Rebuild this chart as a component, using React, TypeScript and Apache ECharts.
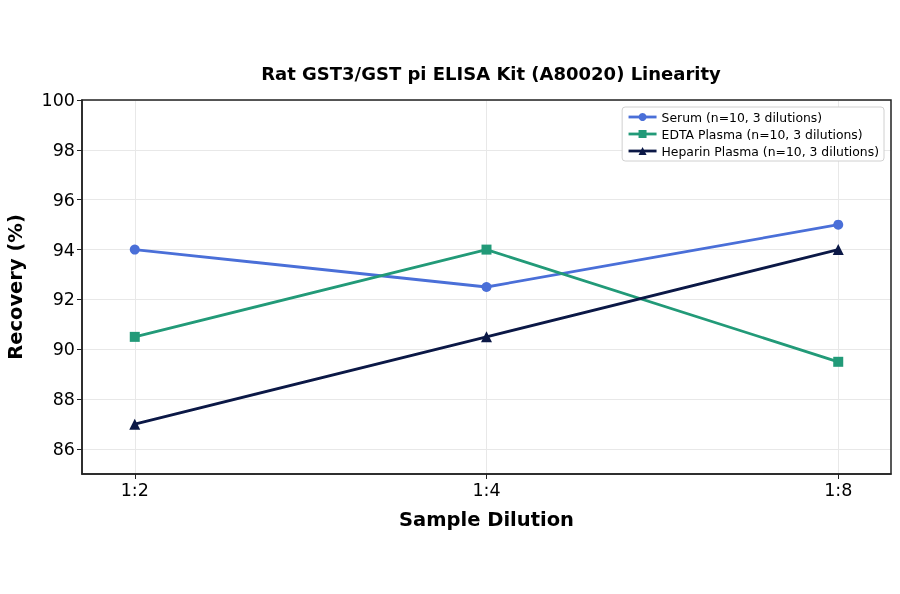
import React, { useEffect, useRef } from "react";
import * as echarts from "echarts";

const dilutions = ["1:2", "1:4", "1:8"];
const serum = [94, 92.5, 95];
const edtaPlasma = [90.5, 94, 89.5];
const heparinPlasma = [87, 90.5, 94];
const yTicks = [86, 88, 90, 92, 94, 96, 98, 100];
const xTicks = [0, 1, 2];

const FONT = "DejaVu Sans";

function pairs(values: number[]) {
  return values.map((v, i) => [i, v]);
}

function App() {
  const chartRef = useRef<HTMLDivElement>(null);

  useEffect(() => {
    if (!chartRef.current) return;
    const chart = echarts.init(chartRef.current, undefined, { renderer: "svg" });
    const lineSeries = (
      name: string,
      values: number[],
      color: string,
      symbol: string,
      symbolSize: number
    ) => ({
      name,
      type: "line" as const,
      data: pairs(values),
      symbol,
      symbolSize,
      color,
      lineStyle: { width: 2.8, color },
      itemStyle: { color },
      z: 3,
    });
    const options: any = {
      animation: false,
      textStyle: { fontFamily: FONT },
      title: {
        text: "Rat GST3/GST pi ELISA Kit (A80020) Linearity",
        left: 486,
        top: 59,
        textAlign: "center",
        textStyle: { fontFamily: FONT, fontSize: 18, fontWeight: "bold", color: "#000" },
      },
      grid: { left: 82, right: 9, top: 100, bottom: 120, outerBoundsMode: "none" },
      legend: {
        orient: "vertical",
        right: 16,
        top: 107,
        itemWidth: 28,
        itemHeight: 10,
        itemGap: 5,
        padding: [4, 5, 4, 5],
        backgroundColor: "#fff",
        borderColor: "#d0d0d0",
        borderWidth: 1,
        borderRadius: 3,
        lineStyle: { width: 2.8 },
        textStyle: { fontFamily: FONT, fontSize: 12.4, color: "#000" },
        data: [
          "Serum (n=10, 3 dilutions)",
          "EDTA Plasma (n=10, 3 dilutions)",
          "Heparin Plasma (n=10, 3 dilutions)",
        ],
      },
      xAxis: {
        type: "value",
        min: -0.15,
        max: 2.15,
        name: "Sample Dilution",
        nameLocation: "middle",
        nameGap: 35,
        nameTextStyle: { fontFamily: FONT, fontSize: 19.5, fontWeight: "bold", color: "#000" },
        axisLine: { show: true, onZero: false, lineStyle: { color: "#222", width: 1.5 } },
        axisTick: { show: true, customValues: xTicks, length: 5, lineStyle: { color: "#222" } },
        axisLabel: {
          customValues: xTicks,
          formatter: (v: number) => dilutions[Math.round(v)] ?? "",
          fontFamily: FONT,
          fontSize: 17.5,
          color: "#000",
          margin: 7,
        },
        splitLine: { show: true, lineStyle: { color: "#e8e8e8", width: 1 } },
      },
      yAxis: {
        type: "value",
        min: 85,
        max: 100,
        name: "Recovery (%)",
        nameLocation: "middle",
        nameGap: 57,
        nameTextStyle: { fontFamily: FONT, fontSize: 19.5, fontWeight: "bold", color: "#000" },
        axisLine: { show: true, onZero: false, lineStyle: { color: "#222", width: 1.5 } },
        axisTick: { show: true, customValues: yTicks, length: 5, lineStyle: { color: "#222" } },
        axisLabel: {
          customValues: yTicks,
          fontFamily: FONT,
          fontSize: 17.5,
          color: "#000",
          margin: 7,
        },
        splitLine: { show: true, lineStyle: { color: "#e8e8e8", width: 1 } },
      },
      series: [
        lineSeries("Serum (n=10, 3 dilutions)", serum, "#4a6fd8", "circle", 10),
        lineSeries("EDTA Plasma (n=10, 3 dilutions)", edtaPlasma, "#229a78", "rect", 10),
        lineSeries("Heparin Plasma (n=10, 3 dilutions)", heparinPlasma, "#0b1846", "triangle", 11),
      ],
      // top and right frame lines
      graphic: [
        {
          type: "rect",
          shape: { x: 82, y: 100, width: 809, height: 374 },
          style: { fill: "none", stroke: "#222", lineWidth: 1.5 },
          silent: true,
          z: 10,
        },
      ],
    };
    chart.setOption(options);
    return () => {
      chart.dispose();
    };
  }, []);

  return (
    <div
      ref={chartRef}
      style={{ position: "fixed", left: 0, top: 0, width: "900px", height: "594px" }}
    />
  );
}

export default App;
